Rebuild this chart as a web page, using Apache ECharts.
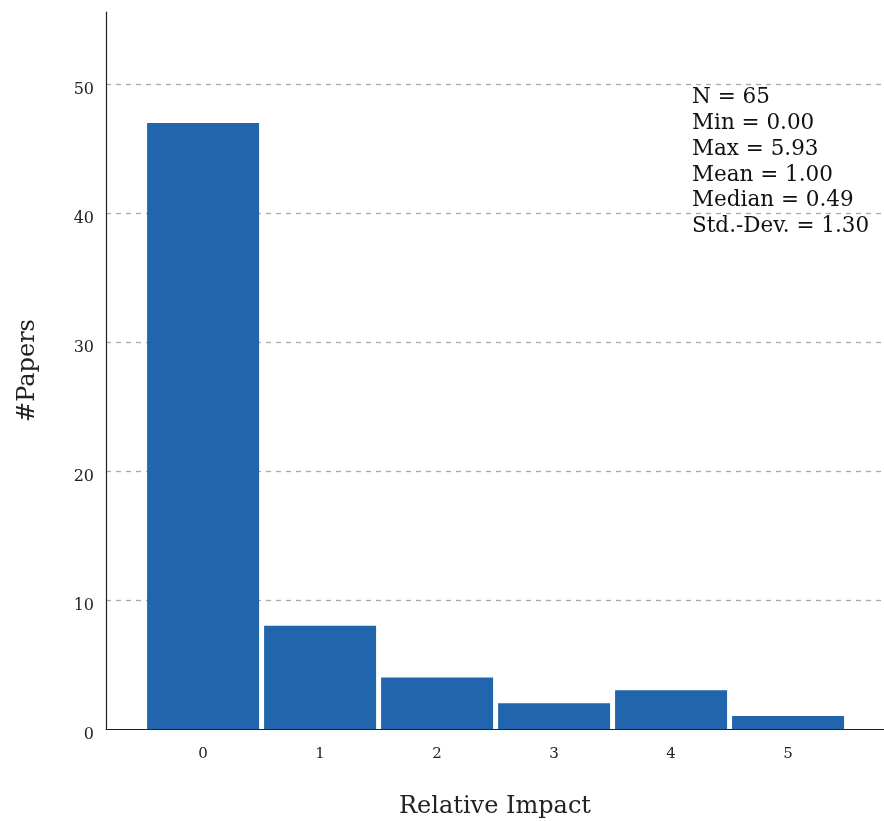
<!DOCTYPE html>
<html>
<head>
<meta charset="utf-8">
<script src="https://cdn.jsdelivr.net/npm/echarts@6/dist/echarts.min.js"></script>
<style>
    html, body, #main {
        width: 884px;
        height: 821px;
        margin: 0;
        background: #fff;
    }
</style>
</head>
<body>
<div id="main"></div>
<script>
    // histogram bins (relative impact) and counts of papers
    var binCenters = [0, 1, 2, 3, 4, 5];
    var paperCounts = [47, 8, 4, 2, 3, 1];
    var yTicks = [0, 10, 20, 30, 40, 50];
    var statsLines = [
        'N = 65',
        'Min = 0.00',
        'Max = 5.93',
        'Mean = 1.00',
        'Median = 0.49',
        'Std.-Dev. = 1.30'
    ];

    var serif = '"DejaVu Serif", "Liberation Serif", serif';
    var chart = echarts.init(document.getElementById('main'));

    var barData = binCenters.map(function (c, i) {
        return [c, paperCounts[i]];
    });

    chart.setOption({
        animation: false,
        textStyle: { fontFamily: serif },
        grid: {
            left: 106,
            right: 0,
            top: 12,
            bottom: 92,
            outerBoundsMode: 'none',
            containLabel: false
        },
        xAxis: {
            type: 'value',
            min: -0.83,
            max: 5.82,
            name: 'Relative Impact',
            nameLocation: 'middle',
            nameGap: 66,
            nameTextStyle: { fontFamily: serif, fontSize: 24, color: '#222' },
            axisLine: { show: true, onZero: false, lineStyle: { color: '#222', width: 1.2 } },
            axisTick: { show: false },
            splitLine: { show: false },
            axisLabel: {
                customValues: binCenters,
                fontFamily: serif,
                fontSize: 15,
                color: '#222',
                margin: 18
            }
        },
        yAxis: {
            type: 'value',
            min: 0,
            max: 55.6,
            interval: 10,
            name: '#Papers',
            nameLocation: 'middle',
            nameGap: 66,
            nameTextStyle: { fontFamily: serif, fontSize: 24, color: '#222' },
            axisLine: { show: true, onZero: false, lineStyle: { color: '#222', width: 1.2 } },
            axisTick: { show: false },
            axisLabel: {
                customValues: yTicks,
                fontFamily: serif,
                fontSize: 16,
                color: '#222',
                margin: 12,
                formatter: '{a|{value}}',
                rich: { a: { fontFamily: serif, fontSize: 16, color: '#222', padding: [12, 0, 0, 0] } }
            },
            splitLine: {
                show: true,
                showMinLine: false,
                showMaxLine: false,
                lineStyle: { color: '#aaaaaa', type: [5, 5], width: 1.3 }
            }
        },
        graphic: [{
            type: 'text',
            left: 692,
            top: 85,
            style: {
                text: statsLines.join('\n'),
                font: '21.5px ' + serif,
                lineHeight: 25.7,
                fill: '#111',
                textAlign: 'left'
            }
        }],
        series: [{
            type: 'bar',
            data: barData,
            barWidth: 112,
            itemStyle: { color: '#2166ac' }
        }]
    });
</script>
</body>
</html>
